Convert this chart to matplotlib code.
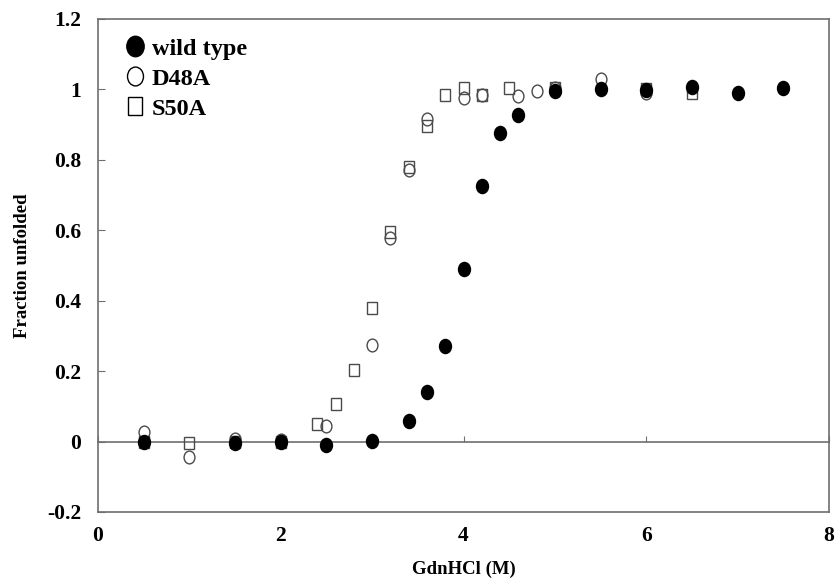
import matplotlib
matplotlib.use("Agg")
import matplotlib.pyplot as plt
from matplotlib.lines import Line2D
from matplotlib.markers import MarkerStyle
from matplotlib.transforms import Affine2D

# Denaturation curves: fraction unfolded vs GdnHCl concentration
wt_conc = [0.5, 1.5, 2.0, 2.5, 3.0, 3.4, 3.6, 3.8, 4.0, 4.2, 4.4, 4.6,
           5.0, 5.5, 6.0, 6.5, 7.0, 7.5]
wt_frac = [0.0, -0.003, 0.0, -0.01, 0.003, 0.057, 0.142, 0.272, 0.49, 0.727,
           0.875, 0.926, 0.996, 1.0, 0.998, 1.006, 0.99, 1.003]

d48a_conc = [0.5, 1.0, 1.5, 2.0, 2.5, 3.0, 3.2, 3.4, 3.6, 4.0, 4.2, 4.6,
             4.8, 5.0, 5.5, 6.0]
d48a_frac = [0.027, -0.045, 0.007, 0.005, 0.045, 0.275, 0.577, 0.77, 0.915,
             0.977, 0.985, 0.98, 0.995, 1.003, 1.03, 0.99]

s50a_conc = [0.5, 1.0, 1.5, 2.0, 2.4, 2.6, 2.8, 3.0, 3.2, 3.4, 3.6, 3.8,
             4.0, 4.2, 4.5, 5.0, 6.0, 6.5]
s50a_frac = [0.0, -0.003, 0.0, 0.0, 0.05, 0.107, 0.204, 0.38, 0.594, 0.78,
             0.897, 0.983, 1.003, 0.983, 1.003, 1.003, 1.0, 0.99]

x_ticks = [0, 2, 4, 6, 8]
y_ticks = [-0.2, 0, 0.2, 0.4, 0.6, 0.8, 1.0, 1.2]
y_tick_labels = ["-0.2", "0", "0.2", "0.4", "0.6", "0.8", "1", "1.2"]

plt.rcParams["font.family"] = ["Liberation Serif", "DejaVu Serif"]
plt.rcParams["font.weight"] = "bold"

frame_color = "#6e6e6e"
open_color = "#4a4a4a"

# slightly tall markers
circ = MarkerStyle("o", transform=Affine2D().scale(1.0, 1.18))
sq = MarkerStyle("s", transform=Affine2D().scale(1.0, 1.18))

fig = plt.figure(figsize=(8.4, 5.86), dpi=100)
ax = fig.add_axes([0.1167, 0.1263, 0.8702, 0.8413])

ax.plot(s50a_conc, s50a_frac, linestyle="none", marker=sq, markersize=7.2,
        markerfacecolor="none", markeredgecolor=open_color,
        markeredgewidth=1.0, zorder=3)
ax.plot(d48a_conc, d48a_frac, linestyle="none", marker=circ, markersize=7.8,
        markerfacecolor="none", markeredgecolor=open_color,
        markeredgewidth=1.0, zorder=3)
ax.plot(wt_conc, wt_frac, linestyle="none", marker=circ, markersize=8.6,
        markerfacecolor="black", markeredgecolor="black", zorder=4)

ax.set_xlim(0, 8)
ax.set_ylim(-0.2, 1.2)

# x axis drawn through y = 0, labels stay at the bottom of the frame
ax.spines["bottom"].set_position(("data", 0))
ax.spines["bottom"].set_color(frame_color)
ax.spines["bottom"].set_linewidth(1.2)
ax.set_xticks(x_ticks)
ax.tick_params(axis="x", direction="in", length=4, color=frame_color,
               labelbottom=False)

sec = ax.secondary_xaxis(0.0)
sec.set_xticks(x_ticks)
sec.tick_params(axis="x", length=0, pad=10, labelsize=15.5)
sec.spines["bottom"].set_color(frame_color)
sec.spines["bottom"].set_linewidth(1.2)
for lab in sec.get_xticklabels():
    lab.set_fontweight("bold")
sec.set_xlabel("GdnHCl (M)", fontsize=13.5, fontweight="bold", labelpad=11)

for side in ["left", "right", "top"]:
    ax.spines[side].set_color(frame_color)
    ax.spines[side].set_linewidth(1.2)

ax.set_yticks(y_ticks)
ax.set_yticklabels(y_tick_labels, fontsize=15.5, fontweight="bold")
ax.tick_params(axis="y", direction="in", length=5, color=frame_color, pad=12)
ax.set_ylabel("Fraction unfolded", fontsize=13.5, fontweight="bold",
              labelpad=12)

# legend keys are drawn larger than the data markers
leg_handles = [
    Line2D([], [], linestyle="none", marker=circ, markersize=12.5,
           markerfacecolor="black", markeredgecolor="black"),
    Line2D([], [], linestyle="none", marker=circ, markersize=11.5,
           markerfacecolor="none", markeredgecolor="black",
           markeredgewidth=1.0),
    Line2D([], [], linestyle="none", marker=sq, markersize=10.5,
           markerfacecolor="none", markeredgecolor="black",
           markeredgewidth=1.0),
]
ax.legend(leg_handles, ["wild type", "D48A", "S50A"],
          loc="upper left", bbox_to_anchor=(0.022, 0.982), frameon=False,
          fontsize=17.5, handlelength=0.9, handletextpad=0.25,
          labelspacing=0.33, borderaxespad=0.0)

fig.savefig("out.png", dpi=100)
